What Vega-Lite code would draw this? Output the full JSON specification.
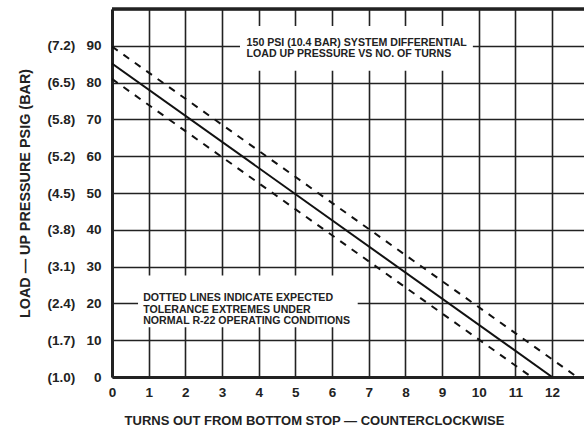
{
  "$schema": "https://vega.github.io/schema/vega-lite/v6.json",
  "width": 472,
  "height": 368,
  "autosize": "none",
  "padding": {"left": 112, "top": 9, "right": 0, "bottom": 55},
  "background": "white",
  "config": {
    "view": {"stroke": null},
    "font": "Liberation Sans"
  },
  "datasets": {
    "lines": [
      {"series": "nominal", "turns": 0, "psig": 85.2},
      {"series": "nominal", "turns": 12, "psig": 0},
      {"series": "upper", "turns": 0, "psig": 89.8},
      {"series": "upper", "turns": 12.68, "psig": 0},
      {"series": "lower", "turns": 0, "psig": 81},
      {"series": "lower", "turns": 11.44, "psig": 0}
    ],
    "boxes": [
      {"turns": 3.49, "turns2": 9.84, "psig": 83.2, "psig2": 95.4},
      {"turns": 0.71, "turns2": 6.7, "psig": 13.5, "psig2": 27.6}
    ],
    "frame": [
      {"turns": 0, "turns2": 12.87, "psig": 100}
    ],
    "notes": [
      {"turns": 3.67, "psig": 90.8, "text": ["150 PSI (10.4 BAR) SYSTEM DIFFERENTIAL", "LOAD UP PRESSURE VS NO. OF TURNS"]},
      {"turns": 0.85, "psig": 21.4, "text": ["DOTTED LINES INDICATE EXPECTED", "TOLERANCE EXTREMES UNDER", "NORMAL R-22 OPERATING CONDITIONS"]}
    ]
  },
  "encoding": {
    "x": {
      "field": "turns", "type": "quantitative",
      "scale": {"domain": [0, 12.87], "nice": false, "zero": false},
      "axis": {
        "values": [0,1,2,3,4,5,6,7,8,9,10,11,12],
        "tickCount": 20,
        "format": "d",
        "title": "TURNS OUT FROM BOTTOM STOP — COUNTERCLOCKWISE",
        "titleFontSize": 13,
        "titleFontWeight": "bold",
        "titleColor": "#222",
        "titlePadding": 16,
        "titleAnchor": "middle",
        "titleX": 202,
        "labelFontSize": 13.5,
        "labelFontWeight": "bold",
        "labelColor": "#222",
        "labelPadding": 8,
        "labelFlush": false,
        "labelOverlap": false,
        "ticks": false,
        "domainColor": "#222",
        "domainWidth": 3,
        "grid": true,
        "gridColor": "#222",
        "gridWidth": 1.6,
        "gridOpacity": 1
      }
    },
    "y": {
      "field": "psig", "type": "quantitative",
      "scale": {"domain": [0, 100], "nice": false},
      "axis": {
        "values": [0,10,20,30,40,50,60,70,80,90,100],
        "tickCount": 20,
        "title": "LOAD — UP PRESSURE PSIG (BAR)",
        "titleFontSize": 14.4,
        "titleFontWeight": "bold",
        "titleColor": "#222",
        "titlePadding": 14,
        "labelFontSize": 13.5,
        "labelFontWeight": "bold",
        "labelColor": "#222",
        "labelPadding": 11,
        "labelFlush": false,
        "labelOverlap": false,
        "labelExpr": "datum.value >= 100 ? '' : '(' + ['1.0','1.7','2.4','3.1','3.8','4.5','5.2','5.8','6.5','7.2'][round(datum.value/10)] + ')\u00a0\u00a0\u00a0' + (datum.value == 0 ? '\u00a0\u00a0' : '') + datum.value",
        "ticks": false,
        "domainColor": "#222",
        "domainWidth": 3,
        "grid": true,
        "gridColor": "#222",
        "gridWidth": 1.6,
        "gridOpacity": 1
      }
    }
  },
  "layer": [
    {
      "data": {"name": "boxes"},
      "mark": {"type": "rect", "color": "white", "opacity": 1},
      "encoding": {
        "x2": {"field": "turns2"},
        "y2": {"field": "psig2"}
      }
    },
    {
      "data": {"name": "frame"},
      "mark": {"type": "rule", "color": "#222", "strokeWidth": 3.5},
      "encoding": {
        "x2": {"field": "turns2"}
      }
    },
    {
      "data": {"name": "lines"},
      "transform": [{"filter": "datum.series == 'nominal'"}],
      "mark": {"type": "line", "color": "#111", "strokeWidth": 2, "clip": true}
    },
    {
      "data": {"name": "lines"},
      "transform": [{"filter": "datum.series != 'nominal'"}],
      "mark": {"type": "line", "color": "#111", "strokeWidth": 2, "strokeDash": [7, 7], "clip": true},
      "encoding": {
        "detail": {"field": "series"}
      }
    },
    {
      "data": {"name": "notes"},
      "mark": {"type": "text", "align": "left", "baseline": "middle", "fontWeight": "bold", "fontSize": 10.6, "lineHeight": 11.5, "color": "#222"},
      "encoding": {
        "text": {"field": "text"}
      }
    }
  ]
}
